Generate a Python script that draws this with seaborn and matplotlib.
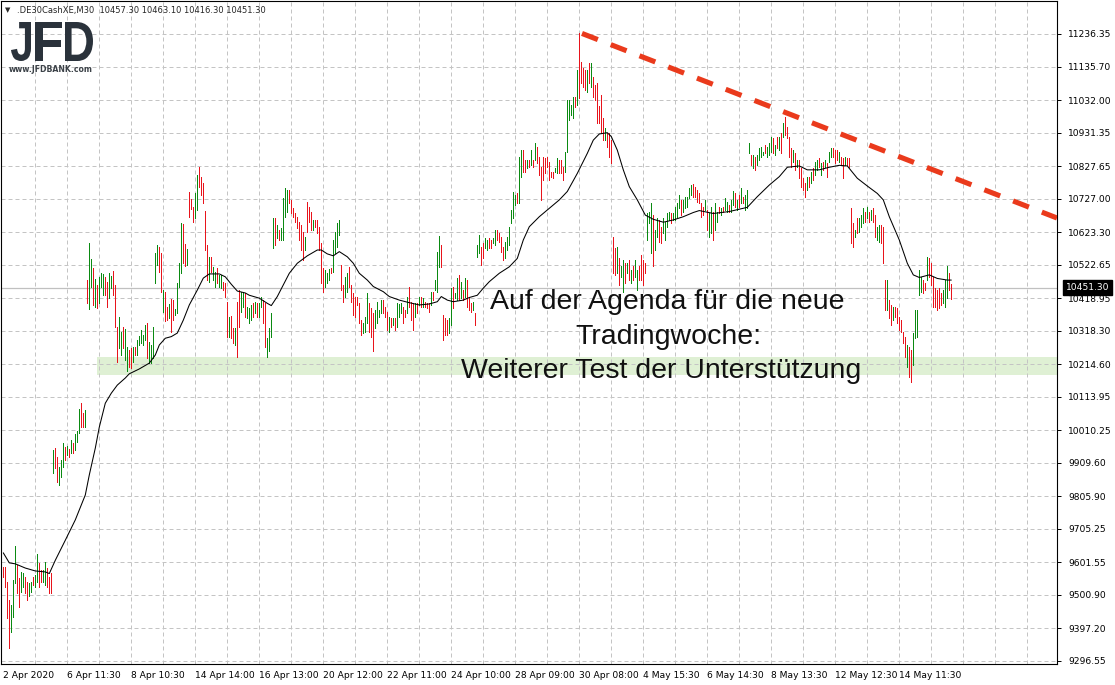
import matplotlib
matplotlib.use("Agg")
import matplotlib.pyplot as plt
import matplotlib.transforms as mtransforms
from matplotlib.textpath import TextPath
from matplotlib.patches import PathPatch
from matplotlib.font_manager import FontProperties
import pandas as pd
import seaborn as sns

sns.set_style("white")
plt.rcParams["font.family"] = ["DejaVu Sans"]

# --- chart values (DE30 cash, 30 minute bars) ---
header_text = ".DE30CashXE,M30  10457.30 10463.10 10416.30 10451.30"
last_price = 10451.30

bar_low = [
    9557, 9526, 9429, 9336, 9387, 9434, 9537, 9506, 9465, 9511,
    9526, 9506, 9485, 9496, 9511, 9531, 9526, 9542, 9526, 9542,
    9542, 9531, 9526, 9506, 9506, 9879, 9892, 9851, 9841, 9867,
    9898, 9918, 9934, 9929, 9939, 9939, 9949, 9975, 10001, 10019,
    10021, 10021, 10403, 10386, 10455, 10398, 10393, 10388, 10403, 10455,
    10429, 10429, 10393, 10419, 10450, 10429, 10331, 10223, 10264, 10243,
    10264, 10228, 10195, 10207, 10202, 10223, 10243, 10243, 10274, 10279,
    10274, 10290, 10233, 10217, 10217, 10233, 10465, 10522, 10501, 10439,
    10377, 10349, 10351, 10357, 10315, 10351, 10367, 10372, 10455, 10496,
    10527, 10517, 10522, 10671, 10695, 10656, 10666, 10692, 10764, 10738,
    10712, 10568, 10475, 10470, 10501, 10475, 10455, 10465, 10455, 10450,
    10445, 10424, 10300, 10300, 10295, 10279, 10274, 10238, 10331, 10377,
    10393, 10362, 10357, 10341, 10351, 10362, 10372, 10362, 10362, 10393,
    10341, 10269, 10238, 10254, 10300, 10573, 10584, 10604, 10599, 10599,
    10599, 10671, 10687, 10712, 10681, 10671, 10656, 10635, 10599, 10568,
    10537, 10568, 10625, 10656, 10630, 10630, 10640, 10620, 10568, 10465,
    10439, 10455, 10465, 10475, 10496, 10501, 10558, 10578, 10614, 10444,
    10408, 10424, 10439, 10455, 10408, 10367, 10362, 10398, 10341, 10305,
    10310, 10315, 10341, 10315, 10300, 10254, 10326, 10341, 10362, 10372,
    10372, 10362, 10321, 10315, 10331, 10336, 10321, 10331, 10362, 10372,
    10341, 10362, 10372, 10393, 10351, 10321, 10362, 10372, 10398, 10393,
    10393, 10393, 10388, 10377, 10398, 10413, 10444, 10439, 10516, 10516,
    10290, 10305, 10305, 10310, 10336, 10388, 10419, 10413, 10413, 10419,
    10413, 10424, 10393, 10383, 10377, 10383, 10336, 10547, 10558, 10522,
    10542, 10573, 10568, 10573, 10573, 10589, 10583, 10599, 10594, 10563,
    10537, 10542, 10568, 10583, 10650, 10666, 10707, 10712, 10712, 10795,
    10810, 10810, 10821, 10826, 10831, 10826, 10846, 10836, 10800, 10723,
    10785, 10805, 10826, 10785, 10795, 10790, 10810, 10805, 10805, 10805,
    10785, 10810, 10872, 10970, 10986, 10975, 11011, 11017, 11037, 11084,
    11073, 11063, 11058, 11084, 11073, 11042, 11032, 10960, 10960, 10929,
    10908, 10908, 10888, 10857, 10836, 10496, 10491, 10496, 10460, 10486,
    10439, 10465, 10496, 10475, 10465, 10475, 10486, 10444, 10475, 10475,
    10460, 10496, 10599, 10651, 10558, 10517, 10568, 10609, 10594, 10589,
    10620, 10599, 10640, 10661, 10651, 10661, 10661, 10671, 10697, 10676,
    10687, 10697, 10702, 10728, 10738, 10733, 10733, 10718, 10712, 10671,
    10676, 10692, 10630, 10609, 10620, 10599, 10630, 10656, 10682, 10676,
    10687, 10692, 10687, 10687, 10687, 10707, 10702, 10692, 10702, 10712,
    10712, 10692, 10697, 10867, 10831, 10821, 10816, 10831, 10847, 10857,
    10862, 10867, 10857, 10862, 10872, 10867, 10862, 10883, 10877, 10867,
    10919, 10924, 10913, 10857, 10826, 10841, 10816, 10826, 10790, 10764,
    10754, 10733, 10754, 10764, 10774, 10785, 10800, 10816, 10826, 10800,
    10816, 10826, 10795, 10841, 10857, 10857, 10836, 10847, 10841, 10831,
    10790, 10831, 10831, 10826, 10589, 10578, 10609, 10620, 10625, 10640,
    10651, 10656, 10666, 10656, 10661, 10656, 10609, 10599, 10594, 10589,
    10527, 10383, 10383, 10357, 10336, 10352, 10362, 10341, 10321, 10315,
    10279, 10238, 10207, 10176, 10161, 10212, 10295, 10300, 10429, 10439,
    10434, 10444, 10475, 10486, 10460, 10393, 10393, 10383, 10388, 10398,
    10403, 10393, 10419, 10444, 10416,
]

bar_high = [
    9588, 9588, 9542, 9485, 9470, 9547, 9652, 9593, 9552, 9573,
    9568, 9557, 9542, 9537, 9542, 9557, 9562, 9628, 9599, 9578,
    9578, 9602, 9583, 9557, 9568, 9949, 9954, 9929, 9898, 9918,
    9972, 9959, 9962, 9951, 9980, 9970, 9999, 10009, 10075, 10094,
    10063, 10073, 10475, 10589, 10539, 10511, 10477, 10460, 10486, 10496,
    10494, 10486, 10470, 10498, 10488, 10504, 10460, 10331, 10360, 10315,
    10331, 10323, 10269, 10259, 10264, 10267, 10269, 10290, 10302, 10321,
    10305, 10336, 10341, 10284, 10274, 10329, 10558, 10584, 10578, 10558,
    10444, 10439, 10391, 10401, 10415, 10413, 10387, 10465, 10527, 10651,
    10649, 10587, 10571, 10748, 10726, 10700, 10745, 10800, 10826, 10795,
    10776, 10690, 10584, 10547, 10545, 10514, 10501, 10511, 10491, 10491,
    10470, 10465, 10408, 10362, 10364, 10326, 10326, 10408, 10444, 10439,
    10439, 10434, 10393, 10388, 10398, 10403, 10408, 10403, 10403, 10424,
    10413, 10403, 10295, 10326, 10372, 10666, 10666, 10645, 10630, 10635,
    10728, 10759, 10754, 10754, 10723, 10697, 10681, 10671, 10656, 10645,
    10625, 10609, 10718, 10702, 10687, 10661, 10661, 10661, 10640, 10589,
    10511, 10506, 10496, 10508, 10511, 10599, 10625, 10651, 10661, 10522,
    10460, 10486, 10496, 10516, 10460, 10434, 10424, 10424, 10403, 10351,
    10341, 10362, 10434, 10403, 10388, 10372, 10383, 10408, 10383, 10413,
    10413, 10393, 10377, 10362, 10357, 10357, 10357, 10403, 10401, 10403,
    10393, 10383, 10424, 10453, 10408, 10403, 10403, 10403, 10424, 10424,
    10419, 10408, 10403, 10403, 10439, 10439, 10475, 10563, 10611, 10584,
    10367, 10357, 10352, 10357, 10449, 10455, 10434, 10480, 10491, 10470,
    10444, 10480, 10475, 10424, 10403, 10408, 10372, 10584, 10614, 10578,
    10589, 10604, 10599, 10604, 10599, 10604, 10630, 10630, 10620, 10609,
    10578, 10594, 10609, 10640, 10692, 10748, 10738, 10743, 10857, 10877,
    10877, 10846, 10846, 10846, 10877, 10846, 10898, 10888, 10857, 10826,
    10857, 10852, 10857, 10841, 10810, 10810, 10821, 10852, 10847, 10847,
    10826, 10872, 11032, 11032, 11017, 11042, 11042, 11125, 11238, 11151,
    11130, 11125, 11125, 11146, 11146, 11104, 11079, 11084, 11012, 11048,
    10975, 10944, 10929, 10929, 10908, 10609, 10573, 10578, 10542, 10517,
    10537, 10527, 10527, 10537, 10506, 10517, 10537, 10506, 10517, 10553,
    10537, 10527, 10681, 10687, 10712, 10676, 10630, 10666, 10661, 10640,
    10666, 10656, 10681, 10687, 10681, 10681, 10702, 10712, 10738, 10723,
    10723, 10733, 10733, 10759, 10769, 10772, 10764, 10754, 10743, 10712,
    10702, 10723, 10692, 10682, 10702, 10687, 10712, 10687, 10702, 10697,
    10702, 10728, 10718, 10707, 10723, 10749, 10743, 10723, 10738, 10759,
    10733, 10738, 10754, 10898, 10862, 10862, 10857, 10862, 10883, 10888,
    10872, 10893, 10888, 10898, 10919, 10913, 10893, 10919, 10919, 10929,
    10960, 10981, 10950, 10919, 10883, 10877, 10867, 10847, 10847, 10821,
    10790, 10774, 10795, 10795, 10810, 10821, 10841, 10847, 10852, 10836,
    10841, 10847, 10836, 10872, 10883, 10883, 10877, 10877, 10872, 10857,
    10852, 10857, 10852, 10852, 10697, 10651, 10630, 10666, 10666, 10676,
    10697, 10687, 10702, 10687, 10692, 10697, 10676, 10640, 10645, 10645,
    10640, 10475, 10475, 10413, 10398, 10393, 10393, 10388, 10362, 10352,
    10315, 10300, 10274, 10269, 10259, 10310, 10383, 10383, 10506, 10486,
    10475, 10465, 10547, 10542, 10527, 10486, 10450, 10444, 10450, 10434,
    10444, 10475, 10517, 10496, 10463,
]

# u = bull bar (green), d = bear bar (red)
bar_dir = "".join([
    "dddduuuddu", "udduuduudd", "uudddudduu", "udududuuud", "duduududuu",
    "udduuddduu", "duudduduuu", "uuduuuuudd", "uddudduuuu", "dduddduudd",
    "ddduduuduu", "dddudduddu", "uduuududuu", "dduuuududu", "uuuddddddd",
    "dudddudddd", "duuuduuuud", "duuddddddd", "uuuddduuuu", "dddududuuu",
    "ddudddudud", "uddduduuud", "ddduuduudu", "duddduduud", "duudduuddd",
    "duuuuuuduu", "ddudududdd", "dddddduudd", "duuuuududd", "ddududdddd",
    "dudddddudu", "udududuudd", "dduuuduudd", "uuuuduuuud", "uuuuuddddd",
    "duduuduudu", "duuduududu", "duuududuuu", "uduuududud", "uddddududd",
    "ddududuudu", "duduudddud", "dudddduduu", "udududduud", "dduddudddd",
    "ddudduuuuu", "dduddddddd", "uuudd",
])

# moving average (black line), sampled along the bars
ma_bar = [0, 3, 6, 11, 16, 21, 23, 26, 31, 36, 41, 43, 46, 48, 51, 54, 57, 61, 63, 68,
          73, 76, 78, 81, 84, 87, 90, 93, 97, 100, 103, 108, 111, 114, 117, 121, 123, 128, 132, 134,
          137, 140, 143, 147, 152, 157, 159, 162, 165, 168, 172, 175, 178, 182, 185, 190, 193, 198, 203, 208,
          213, 217, 219, 222, 225, 230, 233, 237, 240, 243, 248, 253, 257, 260, 263, 268, 273, 278, 282, 287,
          292, 295, 298, 302, 304, 307, 310, 313, 317, 321, 325, 330, 335, 340, 345, 348, 355, 363, 372, 377,
          383, 388, 392, 398, 402, 408, 413, 418, 422, 427, 432, 437, 440, 443, 448, 452, 455, 458, 463, 467,
          472, 474]
ma_value = [9631, 9600, 9597, 9584, 9575, 9572, 9567, 9608, 9670, 9733, 9810, 9872, 9955, 10020, 10094, 10125, 10150, 10172, 10185, 10200,
            10218, 10243, 10274, 10295, 10300, 10311, 10351, 10398, 10444, 10481, 10494, 10494, 10485, 10462, 10441, 10435, 10428, 10419, 10403, 10396,
            10424, 10460, 10496, 10527, 10550, 10568, 10568, 10556, 10550, 10563, 10547, 10527, 10496, 10475, 10455, 10439, 10424, 10413, 10405, 10398,
            10401, 10408, 10424, 10413, 10408, 10413, 10421, 10428, 10450, 10470, 10496, 10516, 10542, 10599, 10640, 10671, 10697, 10723, 10749, 10805,
            10867, 10908, 10927, 10931, 10919, 10877, 10816, 10764, 10723, 10676, 10663, 10654, 10661, 10671, 10684, 10690, 10681, 10687, 10700, 10733,
            10769, 10795, 10824, 10828, 10816, 10816, 10824, 10830, 10828, 10790, 10766, 10743, 10723, 10671, 10599, 10527, 10491, 10483, 10491, 10480,
            10475, 10475]

price_ticks = [11236.35, 11135.70, 11032.00, 10931.35, 10827.65, 10727.00, 10623.30,
               10522.65, 10418.95, 10318.30, 10214.60, 10113.95, 10010.25, 9909.60,
               9805.90, 9705.25, 9601.55, 9500.90, 9397.20, 9296.55]
time_tick_bars = [0, 32, 64, 96, 128, 160, 192, 224, 256, 288, 320, 352, 384, 416, 448]
time_tick_labels = ["2 Apr 2020", "6 Apr 11:30", "8 Apr 10:30", "14 Apr 14:00",
                    "16 Apr 13:00", "20 Apr 12:00", "22 Apr 11:00", "24 Apr 10:00",
                    "28 Apr 09:00", "30 Apr 08:00", "4 May 15:30", "6 May 14:30",
                    "8 May 13:30", "12 May 12:30", "14 May 11:30"]

# drawn objects: support zone and falling trend line
support_zone = [10181, 10237]
support_from_bar = 47
trend_bars = [289.35, 526.85]
trend_prices = [11238, 10667]

annotation_lines = ["Auf der Agenda für die neue", "Tradingwoche:",
                    "Weiterer Test der Unterstützung"]

bars = pd.DataFrame({"bar": range(len(bar_low)), "low": bar_low,
                     "high": bar_high, "dir": list(bar_dir)})
ma = pd.DataFrame({"bar": ma_bar, "ma": ma_value})

W, H = 1115, 685
fig = plt.figure(figsize=(W / 100, H / 100), dpi=100)
ax = fig.add_axes([1 / W, 21 / H, 1056 / W, 663 / H])
ax.set_xlim(-1.15, 526.85)
ax.set_ylim(9287.1, 11338.4)

grid_kw = dict(color="#c4c4c4", lw=0.72, linestyle=(0, (4, 3)), zorder=1)
for p in price_ticks:
    ax.axhline(p, **grid_kw)
for b in range(16, 527, 16):
    ax.axvline(b, **grid_kw)

ax.fill_between([support_from_bar, 527], support_zone[0], support_zone[1],
                color="#dff0d4", lw=0, zorder=0.5)
ax.axhline(last_price, color="#c0c0c0", lw=0.9, zorder=1.2)

colors = {"u": "#0b8a12", "d": "#e8141c"}
for d, grp in bars.groupby("dir"):
    ax.vlines(grp["bar"], grp["low"], grp["high"], colors=colors[d],
              lw=0.7, antialiased=False, zorder=3)

sns.lineplot(data=ma, x="bar", y="ma", color="black", lw=0.75, ax=ax, zorder=4)

ax.plot(trend_bars, trend_prices, color="#ea3a1c", lw=3.7,
        linestyle=(0, (3.3, 2.7)), dash_capstyle="butt", zorder=5)

# axes, ticks
for s in ax.spines.values():
    s.set_color("black")
    s.set_linewidth(0.8)
ax.yaxis.tick_right()
ax.set_yticks(price_ticks)
ax.set_yticklabels([f"{p:.2f}" for p in price_ticks])
ax.set_xticks(time_tick_bars)
ax.set_xticklabels(time_tick_labels, ha="left")
ax.tick_params(axis="both", direction="out", length=3, width=0.7,
               labelsize=6.6, colors="black", pad=2)
ax.tick_params(axis="y", pad=5)
ax.set_xlabel("")
ax.set_ylabel("")

# last price tag on the price scale
tr = mtransforms.blended_transform_factory(ax.transAxes, ax.transData)
ax.text(1.0 + 9 / 1056, last_price, f"{last_price:.2f}", transform=tr,
        ha="left", va="center", color="white", fontsize=6.6, zorder=6,
        bbox=dict(boxstyle="square,pad=0.3", fc="black", ec="black"),
        clip_on=False)

# header
fig.text(5 / W, 1 - 10 / H, "\u25bc", fontsize=5, va="center", ha="left")
fig.text(17 / W, 1 - 10 / H, header_text, fontsize=6.0, va="center", ha="left")

# logo: condensed bold letters drawn as paths in pixel space
logo_font = FontProperties(family="Liberation Sans", weight="bold")
for ch, left, width in [("J", 11, 20), ("F", 35, 27), ("D", 65, 28)]:
    tp = TextPath((0, 0), ch, size=54.5, prop=logo_font)
    ext = tp.get_extents()
    sx = width / ext.width
    sy = 39.0 / ext.height
    place = (mtransforms.Affine2D().translate(-ext.x0, -ext.y0)
             .scale(sx, sy).translate(left, H - 61))
    fig.add_artist(PathPatch(tp, transform=place, fc="#2a323b", ec="none"))
fig.text(51 / W, 1 - 69 / H, "www.JFDBANK.com", fontsize=5.6, fontweight="bold",
         color="#3c4248", va="center", ha="center")

# annotation text
for txt, cx, base in zip(annotation_lines, [667, 668, 661], [309, 344, 378]):
    fig.text(cx / W, 1 - base / H, txt, fontsize=20.5, family="Liberation Sans",
             color="#111111", ha="center", va="baseline")

fig.savefig("out.png", dpi=100)
